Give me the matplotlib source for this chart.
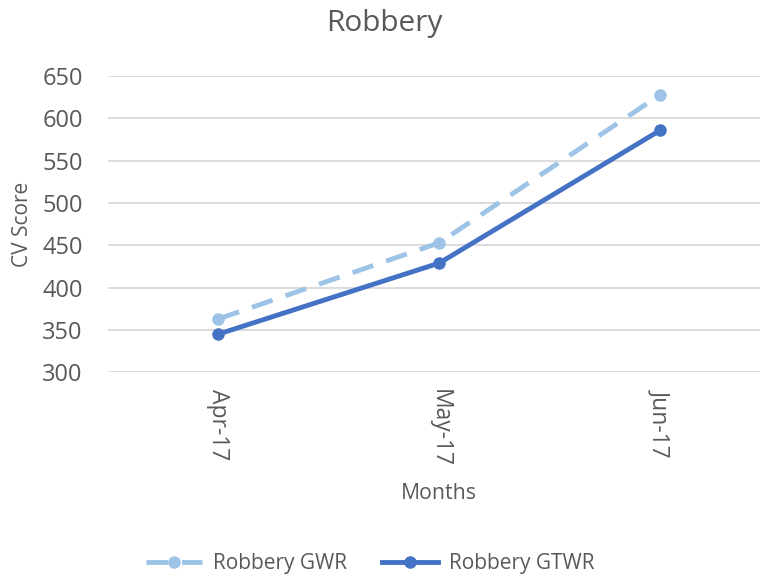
import matplotlib
matplotlib.use('Agg')
import matplotlib.pyplot as plt

months = ['Apr-17', 'May-17', 'Jun-17']
gwr = [363, 453, 628]
gtwr = [345, 429, 586]
yticks = [300, 350, 400, 450, 500, 550, 600, 650]

plt.rcParams['font.family'] = ['Open Sans', 'DejaVu Sans']
txt = '#595959'

fig = plt.figure(figsize=(7.6, 5.77), dpi=100)
ax = fig.add_axes([0.142, 0.355, 0.872, 0.513])

x = list(range(len(months)))
ax.plot(x, gwr, color='#9DC3E6', lw=3.5, ls=(0, (4.5, 2.8)), marker='o', ms=8,
        label='Robbery GWR', zorder=3)
ax.plot(x, gtwr, color='#4472C4', lw=3.5, marker='o', ms=8,
        label='Robbery GTWR', zorder=4)

ax.set_xlim(-0.5, 2.5)
ax.set_ylim(300, 650)
ax.set_yticks(yticks)
ax.set_xticks(x)
ax.set_xticklabels(months, rotation=-90, fontsize=16.5, color=txt)
ax.tick_params(axis='y', labelsize=17, colors=txt, length=0, pad=18)
ax.tick_params(axis='x', length=0, pad=12)
ax.grid(axis='y', color='#d9d9d9', lw=1.3)
ax.set_axisbelow(True)
for s in ax.spines.values():
    s.set_visible(False)

fig.suptitle('Robbery', fontsize=21.5, color=txt, x=0.506, y=0.985)
ax.set_ylabel('CV Score', fontsize=15, color=txt, labelpad=7)
ax.set_xlabel('Months', fontsize=15.3, color=txt, labelpad=12)

fig.legend(loc='lower center', bbox_to_anchor=(0.487, -0.027), ncol=2, frameon=False,
           fontsize=15, handlelength=2.7, handletextpad=0.5, columnspacing=1.7,
           labelcolor=txt)

fig.savefig('out.png', dpi=100)
